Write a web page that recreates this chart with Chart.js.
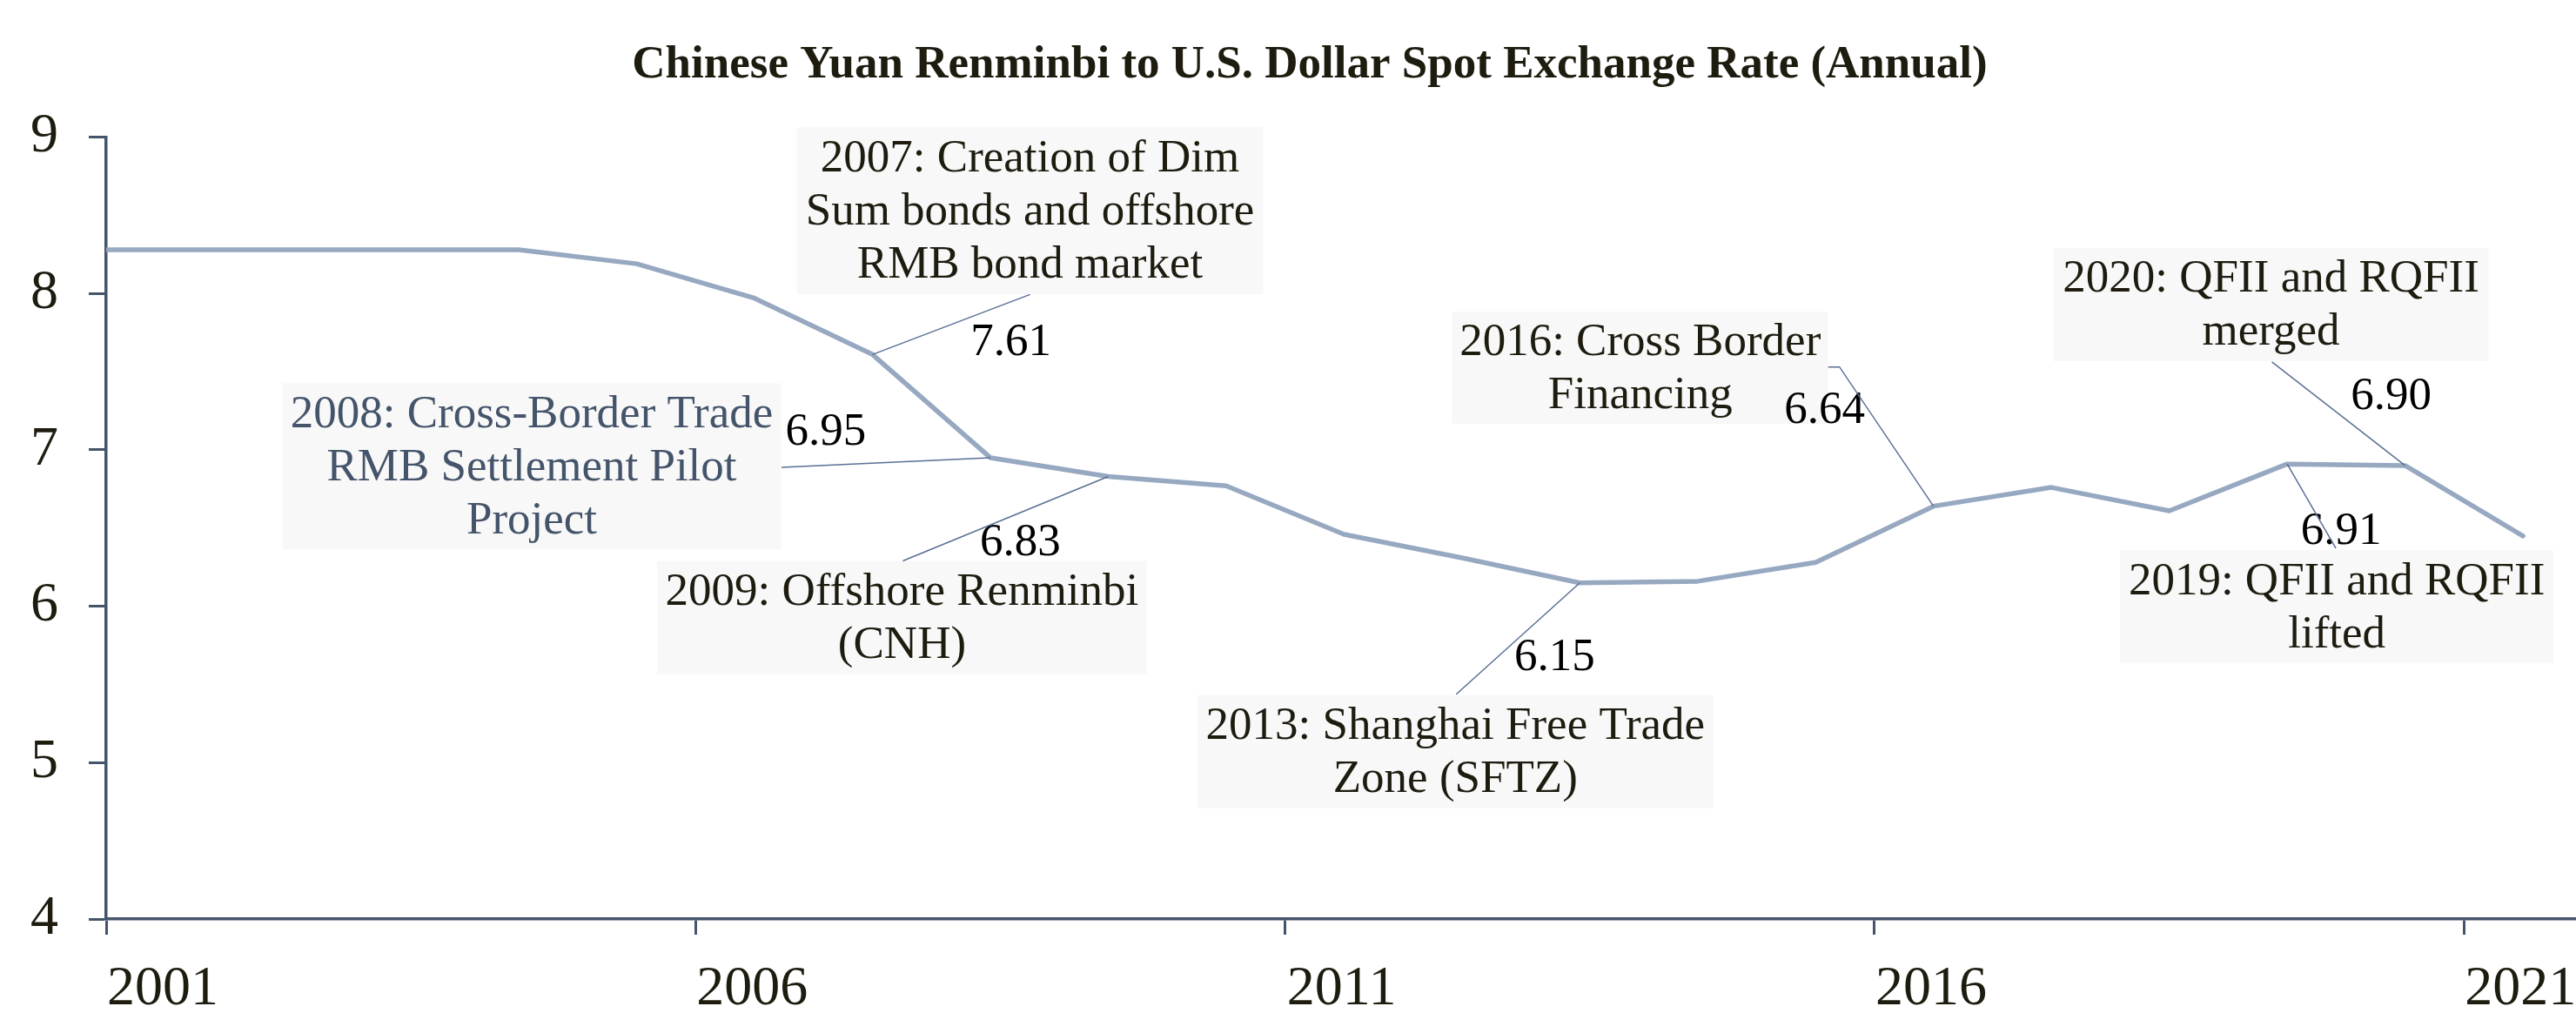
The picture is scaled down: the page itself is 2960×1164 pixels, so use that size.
<!DOCTYPE html>
<html lang="en">
<head>
<meta charset="UTF-8">
<title>Chinese Yuan Renminbi to U.S. Dollar Spot Exchange Rate (Annual)</title>
<script src="https://cdn.jsdelivr.net/npm/chart.js@4.4.1/dist/chart.umd.min.js"></script>
<style>
    html, body { margin: 0; padding: 0; background: #ffffff; }
    .chart-box { position: relative; width: 2960px; height: 1164px; }
</style>
</head>
<body>
<div class="chart-box"><canvas id="rateChart"></canvas></div>
<script>
    // annual average CNY per USD
    const years = [2000, 2001, 2002, 2003, 2004, 2005, 2006, 2007, 2008, 2009, 2010,
                   2011, 2012, 2013, 2014, 2015, 2016, 2017, 2018, 2019, 2020, 2021];
    const rates = [8.28, 8.28, 8.28, 8.28, 8.28, 8.19, 7.97, 7.61, 6.95, 6.83, 6.77,
                   6.46, 6.31, 6.15, 6.16, 6.28, 6.64, 6.76, 6.61, 6.91, 6.90, 6.45];
    const yearTicks = [2001, 2006, 2011, 2016, 2021];
    const rateTicks = [4, 5, 6, 7, 8, 9];

    // policy events
    const noteYears = [2007, 2008, 2009, 2013, 2016, 2019, 2020];
    const noteTexts = [
        ['2007: Creation of Dim', 'Sum bonds and offshore', 'RMB bond market'],
        ['2008: Cross-Border Trade', 'RMB Settlement Pilot', 'Project'],
        ['2009: Offshore Renminbi', '(CNH)'],
        ['2013: Shanghai Free Trade', 'Zone (SFTZ)'],
        ['2016: Cross Border', 'Financing'],
        ['2019: QFII and RQFII', 'lifted'],
        ['2020: QFII and RQFII', 'merged']
    ];

    // where each callout sits, in pixels relative to its point
    const noteLayout = {
        2007: { box: [181, -165, 536, 192], value: [159, -13], leader: [[181, -69]] },
        2008: { box: [-527, 10, 573, 191], value: [-189, -29], leader: [[-240, 11]], color: '#44546a' },
        2009: { box: [-237, 162, 563, 130], value: [-101, 77], leader: [[-236, 97]] },
        2013: { box: [-143, 194, 593, 130], value: [-29, 86], leader: [[-142, 128]] },
        2016: { box: [-337, -159, 432, 129], value: [-125, -110], leader: [[-108, -160], [-121, -160]] },
        2019: { box: [57, 164, 498, 130], value: [62, 78], leader: [[56, 97]] },
        2020: { box: [-154, -185, 500, 130], value: [-16, -79], leader: [[-153, -119]] }
    };

    const serif = "'Liberation Serif', 'Times New Roman', serif";
    const inkColor = '#1e1b0f';
    const axisColor = '#44546a';

    // title is centred a little right of the canvas middle
    const titleShift = {
        id: 'titleShift',
        afterLayout(chart) {
            if (chart.titleBlock) chart.titleBlock.left = 50;
        }
    };

    const notePlugin = {
        id: 'notes',
        afterDatasetsDraw(chart) {
            const ctx = chart.ctx;
            const xs = chart.scales.x, ys = chart.scales.y;
            ctx.save();
            noteYears.forEach((yr, k) => {
                const i = years.indexOf(yr);
                const px = xs.getPixelForValue(years[i]);
                const py = ys.getPixelForValue(rates[i]);
                const L = noteLayout[yr];
                const [bx, by, bw, bh] = L.box;

                ctx.fillStyle = '#f8f8f8';
                ctx.fillRect(px + bx - bw / 2, py + by - bh / 2, bw, bh);

                const lines = noteTexts[k];
                const lh = 61;
                ctx.font = '53px ' + serif;
                ctx.textAlign = 'center';
                ctx.textBaseline = 'middle';
                ctx.fillStyle = L.color || inkColor;
                lines.forEach((t, j) => {
                    ctx.fillText(t, px + bx, py + by + 2 + (j - (lines.length - 1) / 2) * lh);
                });

                ctx.fillStyle = '#000000';
                ctx.fillText(rates[i].toFixed(2), px + L.value[0], py + L.value[1]);

                ctx.strokeStyle = '#5a6f95';
                ctx.lineWidth = 1.5;
                ctx.beginPath();
                ctx.moveTo(px, py);
                L.leader.forEach(p => ctx.lineTo(px + p[0], py + p[1]));
                ctx.stroke();
            });
            ctx.restore();
        }
    };

    new Chart(document.getElementById('rateChart'), {
        type: 'line',
        data: {
            datasets: [{
                data: years.map((y, i) => ({ x: y, y: rates[i] })),
                borderColor: '#97a8c1',
                borderWidth: 5.5,
                borderCapStyle: 'round',
                borderJoinStyle: 'round',
                pointRadius: 0,
                tension: 0,
                clip: 0
            }]
        },
        options: {
            responsive: true,
            maintainAspectRatio: false,
            animation: false,
            layout: { padding: 0 },
            plugins: {
                legend: { display: false },
                tooltip: { enabled: false },
                title: {
                    display: true,
                    text: 'Chinese Yuan Renminbi to U.S. Dollar Spot Exchange Rate (Annual)',
                    color: inkColor,
                    font: { family: serif, size: 53, weight: 'bold' },
                    padding: { top: 44, bottom: 50 }
                }
            },
            scales: {
                x: {
                    type: 'linear',
                    min: 2000.5,
                    max: 2021.45,
                    afterBuildTicks: s => { s.ticks = yearTicks.map(v => ({ value: v - 0.5 })); },
                    afterFit: s => { s.height = 108; },
                    grid: { drawOnChartArea: false, drawTicks: true, tickLength: 18, tickWidth: 3, tickColor: axisColor },
                    border: { color: axisColor, width: 3.5 },
                    ticks: {
                        callback: v => String(Math.round(v + 0.5)),
                        labelOffset: 65,
                        padding: 25,
                        maxRotation: 0,
                        autoSkip: false,
                        color: inkColor,
                        font: { family: serif, size: 64 }
                    }
                },
                y: {
                    min: 4,
                    max: 9,
                    afterBuildTicks: s => { s.ticks = rateTicks.map(v => ({ value: v })); },
                    afterFit: s => { s.width = 122; },
                    grid: { drawOnChartArea: false, drawTicks: true, tickLength: 20, tickWidth: 3, tickColor: axisColor },
                    border: { color: axisColor, width: 3.5 },
                    ticks: {
                        padding: 35,
                        color: inkColor,
                        font: { family: serif, size: 64 }
                    }
                }
            }
        },
        plugins: [titleShift, notePlugin]
    });
</script>
</body>
</html>
